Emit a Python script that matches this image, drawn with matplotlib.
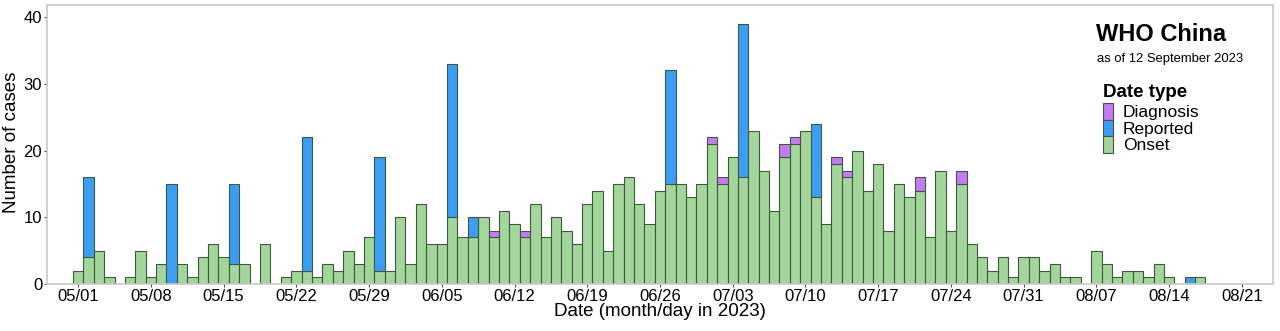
import matplotlib
matplotlib.use('Agg')
import numpy as np
import pandas as pd
import matplotlib.pyplot as plt
import matplotlib.dates as mdates
from matplotlib.patches import Rectangle

plt.rcParams['font.family'] = ['Liberation Sans', 'DejaVu Sans']

# daily onset counts from 2023-05-01 to 2023-08-17
START = '2023-05-01'
onset = [2, 4, 5, 1, 0, 1, 5, 1, 3, 0, 3, 1, 4, 6, 4, 3, 3, 0, 6, 0,
         1, 2, 2, 1, 3, 2, 5, 3, 7, 2, 2,
         10, 3, 12, 6, 6, 10, 7, 7, 10, 7, 11, 9, 7, 12, 7, 10, 8, 6, 12,
         14, 5, 15, 16, 12, 9, 14, 15, 15, 13, 15,
         21, 15, 19, 16, 23, 17, 11, 19, 21, 23, 13, 9, 18, 16, 20, 14, 18, 8, 15,
         13, 14, 7, 17, 8, 15, 6, 4, 2, 4, 1, 4,
         4, 2, 3, 1, 1, 0, 5, 3, 1, 2, 2, 1, 3, 1, 0, 0, 1]

reported_dates = ['2023-05-02', '2023-05-10', '2023-05-16', '2023-05-23', '2023-05-30',
                  '2023-06-06', '2023-06-08', '2023-06-27', '2023-07-04', '2023-07-11',
                  '2023-08-16']
reported_counts = [12, 15, 12, 20, 17, 23, 3, 17, 23, 11, 1]

diagnosis_dates = ['2023-06-10', '2023-06-13', '2023-07-01', '2023-07-02', '2023-07-08',
                   '2023-07-09', '2023-07-13', '2023-07-14', '2023-07-21', '2023-07-25']
diagnosis_counts = [1, 1, 1, 1, 2, 1, 1, 1, 2, 2]

tick_dates = pd.date_range('2023-05-01', '2023-08-21', freq='7D')

GREEN = '#a3d69a'
BLUE = '#3b9ef3'
PURPLE = '#c47bf5'
EDGE = '#3e573e'

days = pd.date_range(START, periods=len(onset), freq='D')
on = pd.Series(onset, index=days, dtype=float)
rep = pd.Series(0.0, index=days)
rep.loc[pd.to_datetime(reported_dates)] = reported_counts
diag = pd.Series(0.0, index=days)
diag.loc[pd.to_datetime(diagnosis_dates)] = diagnosis_counts

W, H = 1280, 331
fig = plt.figure(figsize=(W / 100, H / 100), dpi=100)
ax = fig.add_axes([47 / W, 47 / H, (1273 - 47) / W, (284 - 4.7) / H])

m = on > 0
ax.bar(days[m], on[m], width=1.0, color=GREEN, edgecolor=EDGE, linewidth=0.8)
m = rep > 0
ax.bar(days[m], rep[m], bottom=on[m], width=1.0, color=BLUE, edgecolor=EDGE, linewidth=0.8)
m = diag > 0
ax.bar(days[m], diag[m], bottom=(on + rep)[m], width=1.0, color=PURPLE,
       edgecolor=EDGE, linewidth=0.8)

ax.set_xlim(pd.Timestamp('2023-04-28'), pd.Timestamp('2023-08-24'))
ax.set_ylim(0, 41.85)
ax.set_xticks(tick_dates)
ax.xaxis.set_major_formatter(mdates.DateFormatter('%m/%d'))
ax.set_yticks([0, 10, 20, 30, 40])
ax.tick_params(axis='both', length=2, width=0.8, color='#444444', labelsize=12, pad=1.5)

for s in ax.spines.values():
    s.set_color('#c8c8c8')
    s.set_linewidth(1.2)


def fx(px):
    return px / W


def fy(py):
    return 1 - py / H


fig.text(fx(660), fy(312), 'Date (month/day in 2023)', fontsize=13.5, ha='center', va='center')
fig.text(fx(12), fy(142), 'Number of cases', fontsize=13.5, rotation=90, ha='center', va='center')

fig.text(fx(1161), fy(40.7), 'WHO China', fontsize=17, fontweight='bold', ha='center', va='baseline')
fig.text(fx(1170), fy(62.3), 'as of 12 September 2023', fontsize=9.4, ha='center', va='baseline')
fig.text(fx(1103), fy(96.7), 'Date type', fontsize=13.5, fontweight='bold', ha='left', va='baseline')

legend_items = [('Diagnosis', PURPLE), ('Reported', BLUE), ('Onset', GREEN)]
key_top = 103.3
key_h = 16.5
for k, (lab, col) in enumerate(legend_items):
    y0 = key_top + k * key_h
    fig.add_artist(Rectangle((fx(1102.7), fy(y0 + key_h)), 10 / W, key_h / H,
                             transform=fig.transFigure, facecolor=col,
                             edgecolor=EDGE, linewidth=0.8))
    fig.text(fx(1123), fy(y0 + 14), lab, fontsize=12.5, ha='left', va='baseline')

fig.savefig('out.png', dpi=100)
